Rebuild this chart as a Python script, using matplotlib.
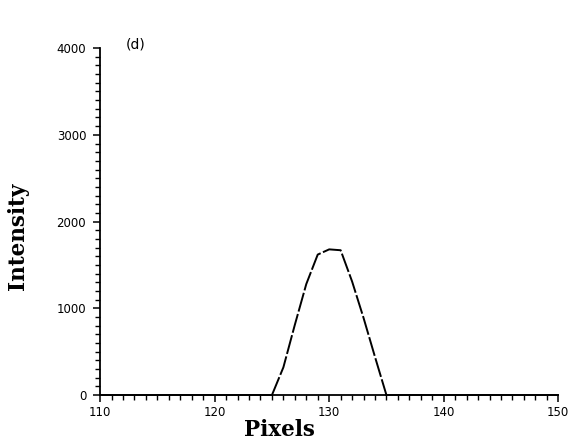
# Perfil de intensidade (painel d) refeito a partir do scan.

import matplotlib
matplotlib.use("Agg")
import matplotlib.pyplot as plt
from matplotlib.ticker import MultipleLocator

# Dados
pixels_pico = [125, 126, 127, 128, 129, 130, 131, 132, 133, 134, 135]
intensidade_pico = [0, 320, 810, 1280, 1620, 1680, 1670, 1310, 890, 440, 0]
pixels_base_esq = [110, 125]
pixels_base_dir = [135, 150]
ticks_x = [110, 120, 130, 140, 150]
ticks_y = [0, 1000, 2000, 3000, 4000]
rotulo_painel = "(d)"

figura = plt.figure(figsize=(5.72, 4.41), dpi=100)
eixo = figura.add_axes([0.175, 0.104, 0.801, 0.787])

eixo.plot(pixels_base_esq, [0, 0], color="black", linewidth=1.3, clip_on=False)
eixo.plot(pixels_base_dir, [0, 0], color="black", linewidth=1.3, clip_on=False)
# traço quase contínuo, como no scan
eixo.plot(pixels_pico, intensidade_pico, color="black", linewidth=1.4,
          dashes=(10, 1.3), clip_on=False)

eixo.set_xlim(110, 150)
eixo.set_ylim(0, 4000)
eixo.set_xticks(ticks_x)
eixo.set_yticks(ticks_y)
eixo.xaxis.set_minor_locator(MultipleLocator(1))
eixo.yaxis.set_minor_locator(MultipleLocator(100))

for lado in ("top", "right"):
    eixo.spines[lado].set_visible(False)
for lado in ("left", "bottom"):
    eixo.spines[lado].set_linewidth(1.3)

eixo.tick_params(which="major", direction="out", length=5, width=1.1,
                 labelsize=8.5, pad=5)
eixo.tick_params(which="minor", direction="out", length=3.5, width=1.0)
eixo.tick_params(axis="x", which="major", pad=3)

eixo.text(0.055, 1.01, rotulo_painel, transform=eixo.transAxes,
          fontsize=10, va="center", ha="left")

figura.text(0.488, 0.025, "Pixels", fontsize=15.5, fontweight="bold",
            family="DejaVu Serif", ha="center", va="center")
figura.text(0.032, 0.465, "Intensity", fontsize=15.5, fontweight="bold",
            family="DejaVu Serif", ha="center", va="center", rotation=90)

figura.savefig("out.png", dpi=100)
plt.close(figura)
